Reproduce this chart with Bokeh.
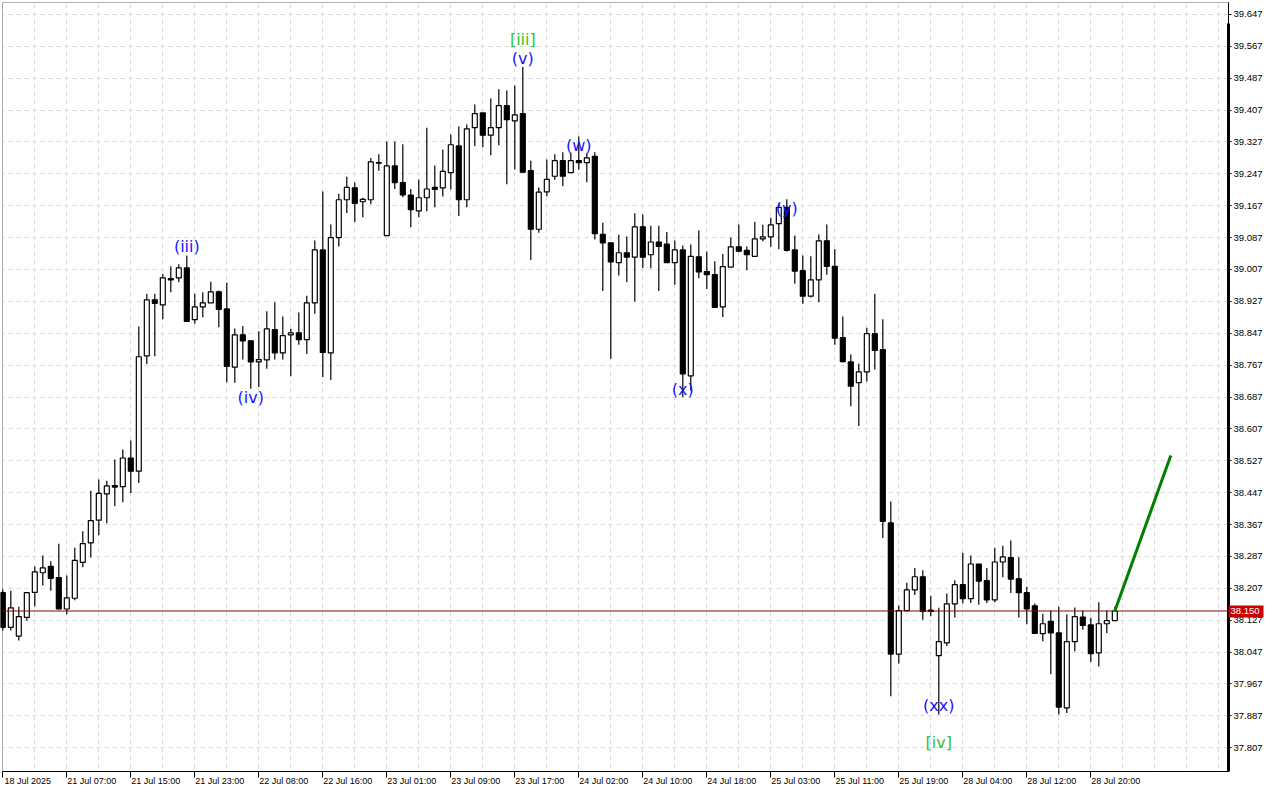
from bokeh.plotting import figure
from bokeh.models import (FixedTicker, PrintfTickFormatter, Grid, LinearAxis, BoxAnnotation,
                          ColumnDataSource, Range1d, CustomJSTickFormatter)
from bokeh.core.properties import value
from bokeh.embed import file_html
from bokeh.resources import INLINE

# ---- OHLC data (hourly bars, index 0..139) ----
opens = [38.196, 38.109, 38.087, 38.134, 38.197, 38.246, 38.262, 38.234, 38.155, 38.182,
         38.272, 38.321, 38.378, 38.444, 38.465, 38.462, 38.534, 38.501, 38.790, 38.931,
         38.918, 38.984, 38.986, 39.011, 38.881, 38.913, 38.923, 38.951, 38.908, 38.762,
         38.843, 38.828, 38.775, 38.780, 38.856, 38.798, 38.843, 38.848, 38.831, 38.923,
         39.056, 38.798, 39.087, 39.182, 39.212, 39.177, 39.182, 39.275, 39.092, 39.267,
         39.225, 39.194, 39.154, 39.187, 39.213, 39.212, 39.250, 39.317, 39.182, 39.363,
         39.400, 39.344, 39.363, 39.418, 39.380, 39.398, 39.255, 39.108, 39.202, 39.241,
         39.280, 39.250, 39.280, 39.275, 39.291, 39.095, 39.074, 39.024, 39.049, 39.038,
         39.114, 39.044, 39.076, 39.071, 39.024, 39.056, 38.740, 39.039, 39.002, 38.994,
         38.913, 39.013, 39.064, 39.055, 39.040, 39.084, 39.089, 39.122, 39.163, 39.056,
         39.004, 38.940, 38.981, 39.079, 39.015, 38.836, 38.775, 38.723, 38.750, 38.846,
         38.806, 38.371, 38.042, 38.151, 38.203, 38.236, 38.152, 38.038, 38.070, 38.168,
         38.216, 38.181, 38.268, 38.226, 38.178, 38.273, 38.284, 38.231, 38.196, 38.163,
         38.093, 38.124, 38.095, 37.907, 38.073, 38.135, 38.115, 38.045, 38.118, 38.126]
highs = [38.204, 38.201, 38.161, 38.196, 38.262, 38.289, 38.275, 38.319, 38.239, 38.309,
         38.350, 38.452, 38.480, 38.477, 38.530, 38.555, 38.578, 38.864, 38.946, 38.946,
         38.996, 39.015, 39.020, 39.042, 38.946, 38.950, 38.976, 38.954, 38.974, 38.859,
         38.865, 38.828, 38.852, 38.902, 38.925, 38.889, 38.858, 38.899, 38.941, 39.080,
         39.203, 39.120, 39.197, 39.240, 39.225, 39.187, 39.287, 39.296, 39.328, 39.328,
         39.321, 39.209, 39.233, 39.363, 39.268, 39.308, 39.346, 39.366, 39.371, 39.421,
         39.400, 39.436, 39.459, 39.456, 39.469, 39.515, 39.280, 39.213, 39.283, 39.296,
         39.301, 39.300, 39.341, 39.299, 39.301, 39.124, 39.074, 39.094, 39.090, 39.148,
         39.145, 39.117, 39.117, 39.101, 39.080, 39.067, 39.070, 39.105, 39.052, 39.028,
         39.046, 39.087, 39.120, 39.065, 39.127, 39.119, 39.137, 39.173, 39.183, 39.092,
         39.042, 39.040, 39.095, 39.120, 39.058, 38.889, 38.794, 38.771, 38.861, 38.946,
         38.882, 38.425, 38.164, 38.221, 38.258, 38.252, 38.188, 38.158, 38.194, 38.227,
         38.296, 38.289, 38.268, 38.258, 38.309, 38.314, 38.327, 38.285, 38.211, 38.169,
         38.143, 38.151, 38.161, 38.141, 38.159, 38.151, 38.133, 38.172, 38.151, 38.161]
lows = [38.101, 38.101, 38.076, 38.126, 38.162, 38.214, 38.201, 38.154, 38.142, 38.177,
        38.260, 38.284, 38.340, 38.370, 38.413, 38.423, 38.446, 38.471, 38.770, 38.789,
        38.882, 38.950, 38.975, 38.875, 38.871, 38.887, 38.923, 38.862, 38.724, 38.723,
        38.781, 38.708, 38.712, 38.758, 38.781, 38.781, 38.739, 38.818, 38.795, 38.896,
        38.737, 38.730, 39.065, 39.149, 39.126, 39.138, 39.171, 39.255, 39.092, 39.209,
        39.188, 39.113, 39.138, 39.153, 39.163, 39.190, 39.208, 39.141, 39.163, 39.316,
        39.314, 39.294, 39.319, 39.221, 39.258, 39.251, 39.031, 39.099, 39.191, 39.232,
        39.216, 39.250, 39.257, 39.226, 39.082, 38.953, 38.783, 38.992, 38.975, 38.927,
        39.011, 39.010, 38.953, 39.024, 38.969, 38.687, 38.703, 38.985, 38.958, 38.912,
        38.888, 39.013, 39.050, 39.005, 39.039, 39.078, 39.064, 39.058, 39.052, 38.971,
        38.921, 38.937, 38.925, 38.994, 38.818, 38.774, 38.664, 38.614, 38.726, 38.756,
        38.333, 37.936, 38.018, 38.151, 38.190, 38.128, 38.137, 37.890, 38.062, 38.134,
        38.169, 38.170, 38.166, 38.170, 38.172, 38.235, 38.195, 38.134, 38.117, 38.093,
        38.074, 37.991, 37.890, 37.894, 38.049, 38.103, 38.022, 38.011, 38.095, 38.126]
closes = [38.109, 38.158, 38.136, 38.196, 38.248, 38.258, 38.232, 38.155, 38.183, 38.277,
          38.319, 38.377, 38.445, 38.464, 38.461, 38.534, 38.501, 38.788, 38.931, 38.922,
          38.986, 38.981, 39.011, 38.877, 38.913, 38.923, 38.951, 38.907, 38.764, 38.843,
          38.828, 38.775, 38.781, 38.858, 38.798, 38.841, 38.848, 38.831, 38.923, 39.056,
          38.799, 39.087, 39.182, 39.213, 39.173, 39.183, 39.277, 39.274, 39.267, 39.225,
          39.194, 39.157, 39.187, 39.209, 39.208, 39.253, 39.320, 39.182, 39.360, 39.398,
          39.344, 39.363, 39.418, 39.383, 39.395, 39.251, 39.108, 39.201, 39.233, 39.280,
          39.241, 39.280, 39.275, 39.287, 39.097, 39.074, 39.026, 39.049, 39.038, 39.114,
          39.038, 39.076, 39.065, 39.024, 39.056, 38.745, 39.040, 39.001, 38.994, 38.912,
          39.014, 39.064, 39.053, 39.044, 39.084, 39.089, 39.119, 39.163, 39.055, 39.003,
          38.940, 38.981, 39.079, 39.015, 38.835, 38.776, 38.714, 38.750, 38.846, 38.804,
          38.375, 38.042, 38.151, 38.203, 38.236, 38.149, 38.149, 38.073, 38.168, 38.216,
          38.181, 38.268, 38.225, 38.178, 38.273, 38.286, 38.230, 38.196, 38.155, 38.094,
          38.118, 38.095, 37.909, 38.073, 38.136, 38.114, 38.043, 38.118, 38.126, 38.150]

# ---- axis ticks ----
x_tick_bars = [0, 8, 16, 24, 32, 40, 48, 56, 64, 72, 80, 88, 96, 104, 112, 120, 128, 136]
x_tick_labels = ["18 Jul 2025", "21 Jul 07:00", "21 Jul 15:00", "21 Jul 23:00",
                 "22 Jul 08:00", "22 Jul 16:00", "23 Jul 01:00", "23 Jul 09:00",
                 "23 Jul 17:00", "24 Jul 02:00", "24 Jul 10:00", "24 Jul 18:00",
                 "25 Jul 03:00", "25 Jul 11:00", "25 Jul 19:00", "28 Jul 04:00",
                 "28 Jul 12:00", "28 Jul 20:00"]
y_ticks = [37.807, 37.887, 37.967, 38.047, 38.127, 38.207, 38.287, 38.367, 38.447, 38.527,
           38.607, 38.687, 38.767, 38.847, 38.927, 39.007, 39.087, 39.167, 39.247, 39.327,
           39.407, 39.487, 39.567, 39.647]

# ---- wave annotations ----
wave_text = ["[iii]", "(v)", "(iii)", "(iv)", "(w)", "(x)", "(y)", "(xx)", "[iv]"]
wave_bar = [65, 65, 23, 31, 72, 85, 98, 117, 117]
wave_price = [39.584, 39.536, 39.065, 38.686, 39.318, 38.706, 39.160, 37.913, 37.820]
wave_color = ["#33c433", "#1414ff", "#1414ff", "#1414ff", "#1414ff", "#1414ff",
              "#1414ff", "#1414ff", "#33c433"]

bid_price = 38.150
proj_bar = [139, 146]
proj_price = [38.150, 38.540]

# ---- geometry: the frame covers the whole canvas; the price chart is a sub-box ----
CW, CH = 1264, 784
BAR_PX = 8.0                    # horizontal pixels per bar
PX_PER_UNIT = 398.5             # vertical pixels per price unit
CH_LEFT, CH_RIGHT, CH_TOP, CH_BOTTOM = 2, 1228, 2, 771     # chart box in canvas px
THICK_TOP = 23                  # where the heavy price-scale line starts
X0 = -0.0375                    # bar value at the chart's left edge
Y1 = 39.677                     # price at the chart's top edge
XA = X0 - CH_LEFT / BAR_PX
XB = XA + CW / BAR_PX
X1 = XA + CH_RIGHT / BAR_PX
YB = Y1 + CH_TOP / PX_PER_UNIT
Y0 = Y1 - (CH_BOTTOM - CH_TOP) / PX_PER_UNIT
YA = Y0 - (CH - CH_BOTTOM) / PX_PER_UNIT
Y_THICK = Y1 - (THICK_TOP - CH_TOP) / PX_PER_UNIT

p = figure(width=CW, height=CH, x_range=Range1d(XA, XB), y_range=Range1d(YA, YB),
           y_axis_location="right", toolbar_location=None, output_backend="svg",
           min_border_left=0, min_border_top=0, min_border_right=0, min_border_bottom=0)
p.background_fill_color = "white"
p.border_fill_color = "white"
p.outline_line_color = None

# grids (dashed), masked outside the chart box
grid_col = "#d9d9d9"
p.xgrid.visible = False
p.add_layout(Grid(dimension=0, ticker=FixedTicker(ticks=list(range(0, 153, 4))),
                  grid_line_color=grid_col, grid_line_dash="4 4", grid_line_width=1))
yt = FixedTicker(ticks=y_ticks)
p.ygrid.ticker = yt
p.ygrid.grid_line_color = grid_col
p.ygrid.grid_line_dash = "4 4"
for box in (dict(left=X1), dict(right=X0), dict(top=Y0), dict(bottom=Y1)):
    p.add_layout(BoxAnnotation(fill_color="white", fill_alpha=1.0, line_color=None,
                               level="underlay", **box))

lab_font = "Liberation Sans"

# price scale on the right edge of the chart box
p.yaxis.fixed_location = X1
p.yaxis.bounds = (Y0, Y1)
p.yaxis.ticker = yt
p.yaxis.formatter = PrintfTickFormatter(format="%.3f")
p.yaxis.axis_line_color = "black"
p.yaxis.axis_line_width = 1
p.yaxis.major_tick_out = 3
p.yaxis.major_tick_in = 0
p.yaxis.minor_tick_out = 0
p.yaxis.minor_tick_in = 0
p.yaxis.major_tick_line_color = "black"
p.yaxis.major_label_standoff = 2
p.yaxis.major_label_text_font = lab_font
p.yaxis.major_label_text_font_size = "9.5px"
p.yaxis.major_label_text_color = "black"

# heavy price-scale line (no ticks)
thick = LinearAxis(fixed_location=X1, bounds=(Y0, Y_THICK), ticker=FixedTicker(ticks=[]),
                   axis_line_color="black", axis_line_width=3,
                   major_tick_out=0, major_tick_in=0, minor_tick_out=0, minor_tick_in=0,
                   major_label_text_font_size="0px")
p.add_layout(thick, "right")

# time scale on the bottom edge: tick marks at bars, labels just right of them
LAB_SHIFT = 3.125
p.xaxis.fixed_location = Y0
p.xaxis.bounds = (X0, X1)
p.xaxis.ticker = FixedTicker(ticks=[b + LAB_SHIFT for b in x_tick_bars], minor_ticks=x_tick_bars)
p.xaxis.formatter = CustomJSTickFormatter(
    args=dict(labels=x_tick_labels, bars=x_tick_bars, shift=LAB_SHIFT),
    code="const i = bars.indexOf(Math.round(tick - shift)); return i >= 0 ? labels[i] : '';")
p.xaxis.axis_line_color = "black"
p.xaxis.major_tick_out = 0
p.xaxis.major_tick_in = 0
p.xaxis.minor_tick_out = 6
p.xaxis.minor_tick_in = 0
p.xaxis.minor_tick_line_color = "black"
p.xaxis.major_label_standoff = -2
p.xaxis.major_label_text_font = lab_font
p.xaxis.major_label_text_font_size = "9px"
p.xaxis.major_label_text_color = "black"

# candles
xs = list(range(len(opens)))
src = ColumnDataSource(dict(
    x=xs, h=highs, l=lows,
    top=[max(o, c) for o, c in zip(opens, closes)],
    bot=[min(o, c) for o, c in zip(opens, closes)],
    fill=["white" if c >= o else "black" for o, c in zip(opens, closes)],
))
p.segment(x0="x", y0="h", x1="x", y1="l", source=src, line_color="black", line_width=1.2)
p.vbar(x="x", width=0.62, top="top", bottom="bot", fill_color="fill",
       line_color="black", line_width=1.2, source=src)

# bid line across the chart box
p.segment(x0=[X0], y0=[bid_price], x1=[X1], y1=[bid_price], line_color="#900000", line_width=1)

# projection line
p.line(proj_bar, proj_price, line_color="#008000", line_width=3)

# wave labels
wsrc = ColumnDataSource(dict(x=wave_bar, y=wave_price, t=wave_text, c=wave_color))
p.text(x="x", y="y", text="t", text_color="c", source=wsrc,
       text_font=value("DejaVu Sans"), text_font_size="16px",
       text_align="center", text_baseline="middle")

# chart border
p.add_layout(BoxAnnotation(left=X0, right=X1, bottom=Y0, top=Y1, fill_color=None,
                           line_color="black", line_width=1))

# price tag on the price scale: a thick red tick with a white label
tag = LinearAxis(fixed_location=X1, ticker=FixedTicker(ticks=[bid_price]),
                 formatter=PrintfTickFormatter(format="%.3f"),
                 axis_line_color=None,
                 major_tick_out=35, major_tick_in=0, major_tick_line_color="#c80000",
                 major_tick_line_width=12, major_tick_line_cap="butt",
                 minor_tick_out=0, minor_tick_in=0,
                 major_label_standoff=-33, major_label_text_color="white",
                 major_label_text_font=lab_font, major_label_text_font_size="9.5px")
p.add_layout(tag, "right")

open("out.html", "w").write(file_html(p, INLINE))
